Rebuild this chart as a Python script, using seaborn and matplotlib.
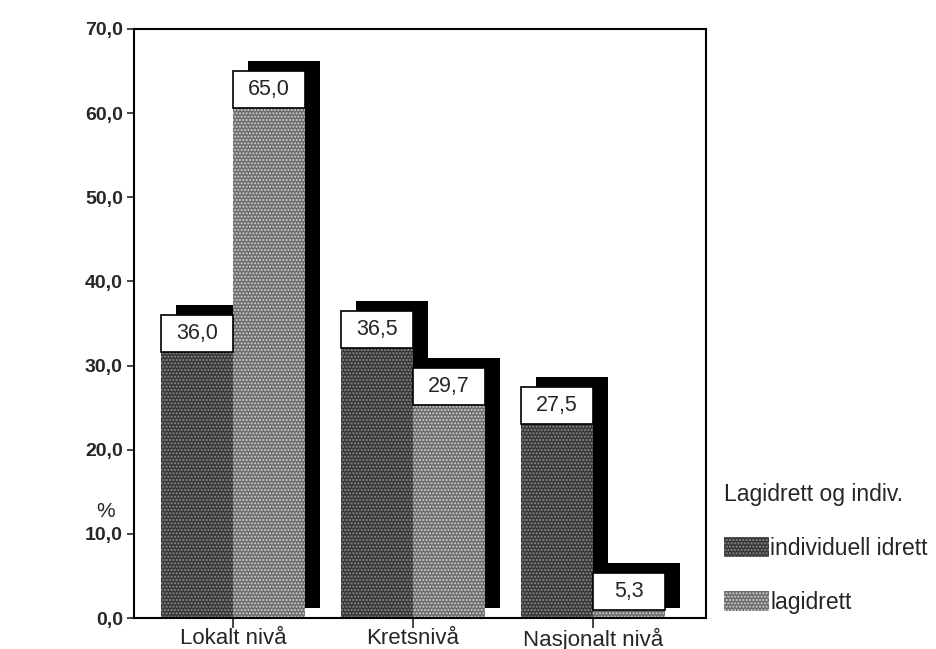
import matplotlib
matplotlib.use("Agg")
import matplotlib.pyplot as plt
from matplotlib.patches import Rectangle, Patch
from matplotlib.transforms import ScaledTranslation
import seaborn as sns
import pandas as pd

# Data
categories = ["Lokalt nivå", "Kretsnivå", "Nasjonalt nivå"]
groups = ["individuell idrett", "lagidrett"]
individuell = [36.0, 36.5, 27.5]
lagidrett = [65.0, 29.7, 5.3]
yticks = [0, 10, 20, 30, 40, 50, 60, 70]

df = pd.DataFrame({
    "niva": categories * 2,
    "gruppe": [groups[0]] * 3 + [groups[1]] * 3,
    "prosent": individuell + lagidrett,
})

sns.set_style("white")
plt.rcParams["font.family"] = ["Liberation Sans", "DejaVu Sans"]
plt.rcParams["hatch.linewidth"] = 1.0

face = {groups[0]: "#383838", groups[1]: "#6c6c6c"}
hatch_col = {groups[0]: "#8a8a8a", groups[1]: "#cfcfcf"}

fig = plt.figure(figsize=(9.36, 6.49), dpi=100)
ax = fig.add_axes([134 / 936, 31 / 649, 572 / 936, 589 / 649])

sns.barplot(data=df, x="niva", y="prosent", hue="gruppe", order=categories,
            hue_order=groups, palette=face, saturation=1, width=0.8,
            errorbar=None, legend=False, ax=ax, zorder=2)

# texture each series and give every bar a drop shadow and a value box
shadow_shift = ScaledTranslation(15 / 100, 10 / 100, fig.dpi_scale_trans)
box_h = 4.4
for grp, cont in zip(groups, ax.containers):
    for bar in cont:
        bar.set_facecolor(face[grp])
        bar.set_edgecolor(hatch_col[grp])
        bar.set_hatch(".....")
        bar.set_linewidth(0)
        x, w, h = bar.get_x(), bar.get_width(), bar.get_height()
        ax.add_patch(Rectangle((x, 0), w, h, facecolor="black", edgecolor="none",
                               transform=ax.transData + shadow_shift, zorder=1.5,
                               clip_on=False))
        ax.add_patch(Rectangle((x, h - box_h), w, box_h, facecolor="white",
                               edgecolor="black", linewidth=1.2, zorder=3))
        ax.text(x + w / 2, h - box_h / 2, f"{h:.1f}".replace(".", ","),
                ha="center", va="center", fontsize=15.5, zorder=4)

ax.set_xlim(-0.55, 2.628)
ax.set_ylim(0, 70)
ax.set_yticks(yticks)
ax.set_yticklabels([f"{v:.1f}".replace(".", ",") for v in yticks],
                   fontsize=14, fontweight="bold")
ax.tick_params(axis="y", length=5, width=1.2, direction="out", pad=3, left=True)
ax.tick_params(axis="x", length=7, width=1.2, direction="out", pad=0,
               bottom=True, labelsize=16)
ax.set_xlabel("")
ax.set_ylabel("%", rotation=0, fontsize=15, va="center", ha="center")
ax.yaxis.set_label_coords(-0.05, 0.18)

for side in ["left", "right", "top", "bottom"]:
    ax.spines[side].set_visible(True)
    ax.spines[side].set_color("black")
    ax.spines[side].set_linewidth(1.5)

handles = [Patch(facecolor=face[g], edgecolor=hatch_col[g], hatch=".....",
                 linewidth=0) for g in groups]
leg = fig.legend(handles, groups, title="Lagidrett og indiv.",
                 loc="upper left", bbox_to_anchor=(713 / 936, 1 - 472 / 649),
                 frameon=False, fontsize=16.5, title_fontsize=16.5,
                 handlelength=1.95, handleheight=0.95, handletextpad=0.05,
                 labelspacing=1.35, borderpad=0, alignment="left")
leg._legend_box.sep = 22

fig.savefig("out.png", dpi=100)
